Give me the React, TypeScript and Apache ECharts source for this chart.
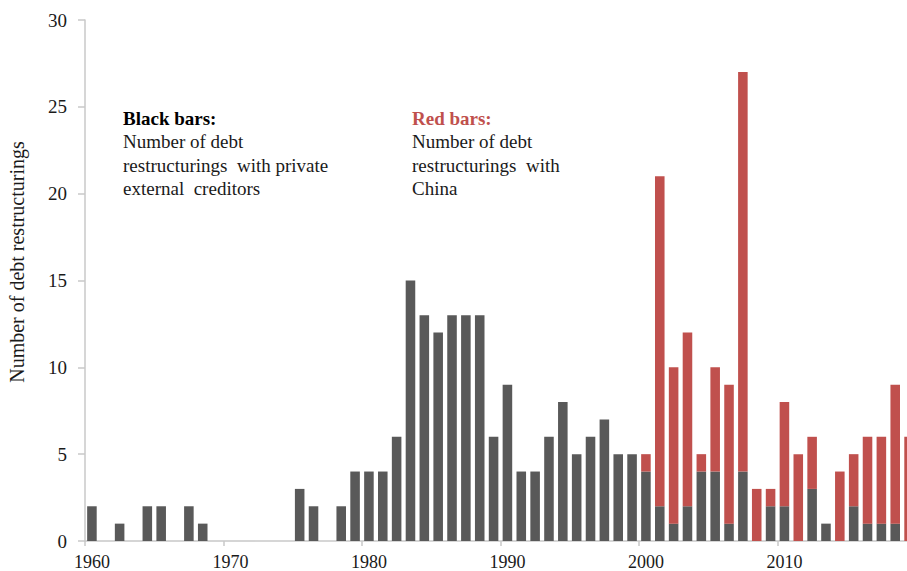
import React, { useEffect, useRef } from "react";
import * as echarts from "echarts";

const years: string[] = [];
for (let y = 1960; y <= 2019; y++) years.push(String(y));

const privateCreditors = [
  2, 0, 1, 0, 2, 2, 0, 2, 1, 0,
  0, 0, 0, 0, 0, 3, 2, 0, 2, 4,
  4, 4, 6, 15, 13, 12, 13, 13, 13, 6,
  9, 4, 4, 6, 8, 5, 6, 7, 5, 5,
  4, 2, 1, 2, 4, 4, 1, 4, 0, 2,
  2, 0, 3, 1, 0, 2, 1, 1, 1, 0,
];

const chinaCreditors = [
  0, 0, 0, 0, 0, 0, 0, 0, 0, 0,
  0, 0, 0, 0, 0, 0, 0, 0, 0, 0,
  0, 0, 0, 0, 0, 0, 0, 0, 0, 0,
  0, 0, 0, 0, 0, 0, 0, 0, 0, 0,
  1, 19, 9, 10, 1, 6, 8, 23, 3, 1,
  6, 5, 3, 0, 4, 3, 5, 5, 8, 6,
];

const yTicks = { min: 0, max: 30, interval: 5 };
const yTitle = "Number of debt restructurings";

const FONT = '"Liberation Serif", "Times New Roman", serif';
const TEXT = "#1a1a1a";
const BLACK = "#595959";
const RED = "#C0504D";
const AXIS = "#c8c8c8";

export default function App() {
  const ref = useRef<HTMLDivElement>(null);
  useEffect(() => {
    if (!ref.current) return;
    const chart = echarts.init(ref.current, undefined, { renderer: "svg" });
    chart.setOption({
      animation: false,
      backgroundColor: "#ffffff",
      textStyle: { fontFamily: FONT },
      grid: { left: 85, top: 20, bottom: 27.5, right: 0, containLabel: false },
      xAxis: {
        type: "category",
        data: years,
        boundaryGap: true,
        axisLine: { show: true, lineStyle: { color: AXIS, width: 1.5 } },
        axisTick: {
          show: true,
          interval: 9,
          alignWithLabel: false,
          length: 5,
          lineStyle: { color: AXIS, width: 1.5 },
        },
        axisLabel: {
          interval: 9,
          fontFamily: FONT,
          fontSize: 18,
          color: TEXT,
          margin: 12,
        },
      },
      yAxis: {
        type: "value",
        min: yTicks.min,
        max: yTicks.max,
        interval: yTicks.interval,
        axisLine: { show: true, lineStyle: { color: AXIS, width: 1.5 } },
        axisTick: { show: true, length: 7, lineStyle: { color: AXIS, width: 1.5 } },
        splitLine: { show: false },
        axisLabel: { fontFamily: FONT, fontSize: 19, color: TEXT, margin: 18 },
      },
      series: [
        {
          name: "Private external creditors",
          type: "bar",
          stack: "total",
          data: privateCreditors,
          barWidth: "69%",
          itemStyle: { color: BLACK },
        },
        {
          name: "China",
          type: "bar",
          stack: "total",
          data: chinaCreditors,
          barWidth: "69%",
          itemStyle: { color: RED },
        },
      ],
      graphic: [
        {
          type: "text",
          x: 17,
          y: 262,
          rotation: Math.PI / 2,
          style: {
            text: yTitle,
            fontFamily: FONT,
            fontSize: 20,
            fill: TEXT,
            align: "center",
            verticalAlign: "middle",
          },
        },
        {
          type: "text",
          left: 123,
          top: 109,
          style: {
            text: "{h|Black bars:}\n{t|Number of debt}\n{t|restructurings  with private}\n{t|external  creditors}",
            rich: {
              h: { fontFamily: FONT, fontSize: 19, fontWeight: "bold", fill: "#000", lineHeight: 23.3 },
              t: { fontFamily: FONT, fontSize: 19, fill: TEXT, lineHeight: 23.3 },
            },
          },
        },
        {
          type: "text",
          left: 412,
          top: 109,
          style: {
            text: "{h|Red bars:}\n{t|Number of debt}\n{t|restructurings  with}\n{t|China}",
            rich: {
              h: { fontFamily: FONT, fontSize: 19, fontWeight: "bold", fill: RED, lineHeight: 23.3 },
              t: { fontFamily: FONT, fontSize: 19, fill: TEXT, lineHeight: 23.3 },
            },
          },
        },
      ],
    });
    return () => chart.dispose();
  }, []);
  return (
    <div
      style={{ position: "fixed", left: 0, top: 0, width: 907, height: 571, overflow: "hidden" }}
    >
      <div ref={ref} style={{ width: 916, height: 571 }} />
    </div>
  );
}
